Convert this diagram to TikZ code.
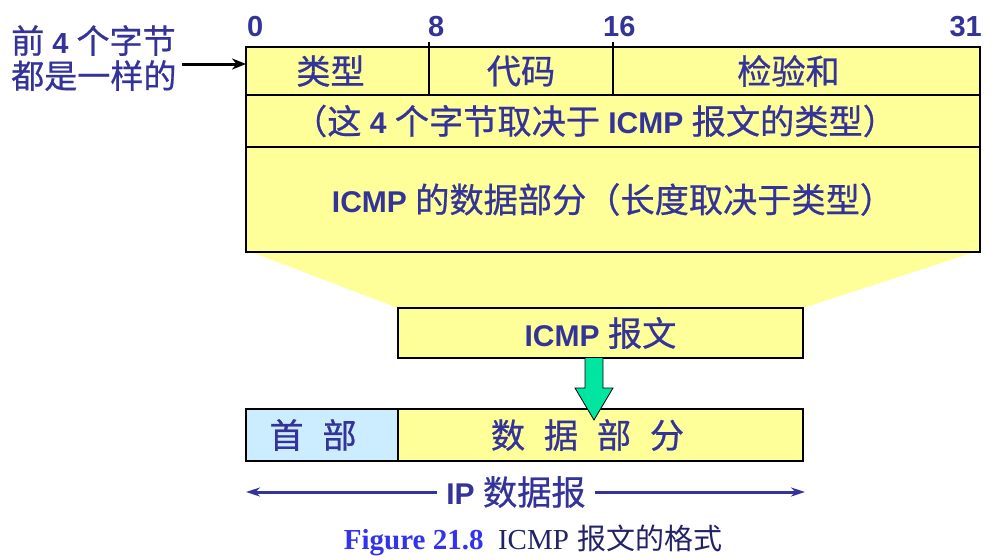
\documentclass[tikz,border=0pt]{standalone}
\usepackage{fontspec}
\setmainfont{Liberation Sans}
\newfontfamily\cjk[Scale=1.14,FakeBold=0.7]{Noto Sans CJK SC}
\newfontfamily\cjkcap{Noto Sans CJK SC}
\newfontfamily\capserif{Liberation Serif}
\usetikzlibrary{arrows.meta,backgrounds}
\definecolor{txt}{RGB}{51,51,153}
\definecolor{fillY}{RGB}{255,255,153}
\definecolor{fillB}{RGB}{204,236,255}
\definecolor{grn}{RGB}{0,230,160}
\definecolor{capblue}{RGB}{51,51,238}
\definecolor{capdark}{RGB}{34,34,102}
\newcommand\zh[1]{{\cjk #1}}
\begin{document}
\begin{tikzpicture}[x=1pt,y=-1pt,
  cell/.style={draw=black, line width=1.2pt, fill=fillY, anchor=north west,
    inner sep=0pt, outer sep=0pt, text=txt, font=\fontsize{30}{34}\selectfont},
  bitnum/.style={text=txt, font=\bfseries\fontsize{29}{30}\selectfont, inner sep=0pt},
  bigtxt/.style={text=txt, font=\fontsize{29}{35}\selectfont},
  bluearrow/.style={line width=3pt, draw=txt, -{Stealth[length=14pt,width=9pt]}},
]
\useasboundingbox (0,0) rectangle (1005,560);

% top format
\node[cell, minimum width=183pt, minimum height=48pt] (type) at (246,47) {\zh{类型}\kern14pt};
\node[cell, minimum width=184pt, minimum height=48pt] (code) at (429,47) {\zh{代码}};
\node[cell, minimum width=367pt, minimum height=48pt] (chk) at (613,47) {\zh{检验和}\kern16pt};
\node[cell, minimum width=734pt, minimum height=52pt] (row2) at (246,95)
  {\zh{（这} \textbf{4} \zh{个字节取决于} \textbf{ICMP} \zh{报文的类型）}\kern36pt};
\node[cell, minimum width=734pt, minimum height=105pt] (row3) at (246,147)
  {\textbf{ICMP} \zh{的数据部分（长度取决于类型）}};

% ticks above dividers
\draw[line width=1.2pt] (type.north east) -- ++(0,-5);
\draw[line width=1.2pt] (code.north east) -- ++(0,-5);

% bit numbers
\node[bitnum, anchor=base west] (b0) at (247,36) {0};
\node[bitnum, anchor=base west] (b8) at (428,36) {8};
\node[bitnum, anchor=base west] (b16) at (603,36) {16};
\node[bitnum, anchor=base east] (b31) at (982,36) {31};

% left label
\node[bigtxt, align=left, anchor=north west, inner sep=0pt] (lbl) at (11,25)
  {\zh{前} \textbf{4} \zh{个字节}\\\zh{都是一样的}};
\coordinate (la) at (182,64);
\draw[line width=3pt, -{Stealth[length=14pt,width=11pt]}] (la) -- (la -| type.west);

% ICMP message box
\node[cell, minimum width=405pt, minimum height=50pt] (icmp) at (398,308) {\textbf{ICMP} \zh{报文}};

% trapezoid
\begin{scope}[on background layer]
  \fill[fillY] ([xshift=5pt]row3.south west) -- ([xshift=-5pt]row3.south east)
     -- (icmp.north east) -- (icmp.north west) -- cycle;
\end{scope}

% IP datagram
\node[cell, fill=fillB, minimum width=152pt, minimum height=52pt] (hdr) at (246,409)
  {\zh{首\hspace{0.55em}部}\kern18pt};
\node[cell, minimum width=405pt, minimum height=52pt] (data) at (398,409)
  {\zh{数\hspace{0.55em}据\hspace{0.55em}部\hspace{0.55em}分}\kern26pt};

% green arrow
\coordinate (ga) at (594,358);
\fill[grn] ([xshift=-9pt]ga) -- ++(18,0) -- ++(0,30) -- ++(10,0)
  -- ++(-19,32) -- ++(-19,-32) -- ++(10,0) -- cycle;
\draw[line width=0.8pt, line join=miter] ([xshift=-9pt]ga) -- ++(0,30) -- ++(-10,0)
  -- ++(19,32) -- ++(19,-32) -- ++(-10,0) -- ++(0,-30);

% IP datagram span arrow
\node[text=txt, font=\fontsize{30}{34}\selectfont, inner xsep=9pt, inner ysep=0pt] (ip) at (516,492)
  {\textbf{IP} \zh{数据报}};
\coordinate (ipL) at (246,492);
\coordinate (ipR) at (805,492);
\draw[bluearrow] (ip.west) -- (ipL);
\draw[bluearrow] (ip.east) -- (ipR);

% caption
\node[font=\fontsize{29}{30}\selectfont, inner sep=0pt] (cap) at (533,540)
  {{\capserif\bfseries\color{capblue}Figure 21.8}\hspace{0.5em}{\capserif\color{capdark}ICMP} {\cjkcap\color{capdark}报文的格式}};
\end{tikzpicture}
\end{document}
